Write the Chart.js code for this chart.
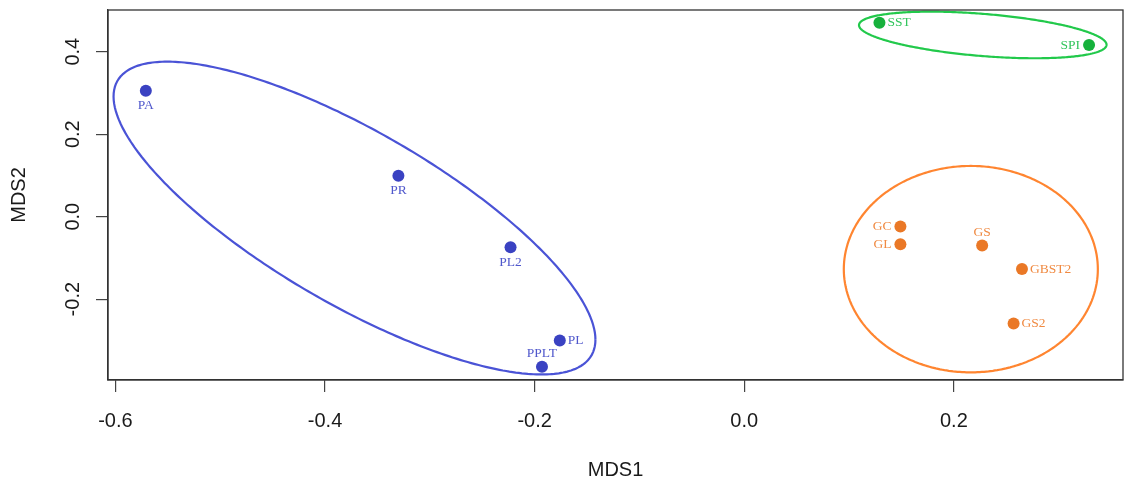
<!DOCTYPE html>
<html>
<head>
<meta charset="utf-8">
<script src="https://cdn.jsdelivr.net/npm/chart.js@4.4.0/dist/chart.umd.min.js"></script>
<style>
  html, body { margin: 0; padding: 0; background: #ffffff; }
  #wrap { width: 1126px; height: 488px; }
</style>
</head>
<body>
<div id="wrap"><canvas id="c" width="1126" height="488"></canvas></div>
<script>
// ---- data ----
const sites  = ['PA', 'PR', 'PL2', 'PL', 'PPLT', 'SST', 'SPI', 'GC', 'GL', 'GS', 'GBST2', 'GS2'];
const mds1   = [-0.571, -0.330, -0.223, -0.176, -0.193, 0.129, 0.329, 0.149, 0.149, 0.227, 0.265, 0.257];
const mds2   = [0.305, 0.099, -0.074, -0.300, -0.364, 0.470, 0.416, -0.024, -0.067, -0.070, -0.127, -0.259];
const groups = ['P', 'P', 'P', 'P', 'P', 'S', 'S', 'G', 'G', 'G', 'G', 'G'];
// label side, R style: 1 below, 2 left, 3 above, 4 right
const labelPos = [1, 1, 1, 4, 3, 4, 2, 2, 2, 3, 4, 4];

const groupNames = ['P', 'S', 'G'];
// group ellipses: centre, half extents along MDS1 / MDS2, correlation
const ellCx = [-0.3719, 0.2276, 0.2162];
const ellCy = [-0.0034, 0.4405, -0.1273];
const ellRx = [0.2299, 0.1181, 0.1212];
const ellRy = [0.3792, 0.0565, 0.2502];
const ellR  = [-0.777, -0.42, 0.0];

const xTicks = [-0.6, -0.4, -0.2, 0.0, 0.2];
const yTicks = [-0.2, 0.0, 0.2, 0.4];
const xRange = [-0.6071, 0.3614];
const yRange = [-0.396, 0.501];

// ---- styles ----
const dotColor  = { P: '#3a42c2', S: '#16b13c', G: '#ea7826' };
const lineColor = { P: '#4a53d6', S: '#22c94b', G: '#ff8530' };
const textColor = { P: '#5058cc', S: '#33c55d', G: '#f08a42' };

const pointSets = groupNames.map(g => ({
  type: 'scatter',
  label: g,
  data: sites.map((s, i) => ({ x: mds1[i], y: mds2[i], g: groups[i] })).filter(d => d.g === g),
  backgroundColor: dotColor[g],
  borderColor: dotColor[g],
  pointRadius: 6,
  pointHoverRadius: 6,
  borderWidth: 0,
  order: 0
}));

const ellipseSets = groupNames.map((g, k) => {
  const pts = [];
  const n = 180;
  for (let j = 0; j <= n; j++) {
    const t = 2 * Math.PI * j / n;
    pts.push({
      x: ellCx[k] + ellRx[k] * Math.cos(t),
      y: ellCy[k] + ellRy[k] * (ellR[k] * Math.cos(t) + Math.sqrt(1 - ellR[k] * ellR[k]) * Math.sin(t))
    });
  }
  return {
    type: 'line',
    label: g + ' ellipse',
    data: pts,
    borderColor: lineColor[g],
    borderWidth: 2.2,
    pointRadius: 0,
    fill: false,
    tension: 0.001,
    order: 1
  };
});

const labelPlugin = {
  id: 'siteLabels',
  afterDatasetsDraw(chart) {
    const ctx = chart.ctx;
    const xs = chart.scales.x, ys = chart.scales.y;
    ctx.save();
    ctx.font = "13.5px 'Liberation Serif', 'Times New Roman', serif";
    sites.forEach((s, i) => {
      const px = xs.getPixelForValue(mds1[i]);
      const py = ys.getPixelForValue(mds2[i]);
      ctx.fillStyle = textColor[groups[i]];
      ctx.textBaseline = 'middle';
      let tx = px, ty = py;
      switch (labelPos[i]) {
        case 1: ctx.textAlign = 'center'; ty = py + 15; break;
        case 3: ctx.textAlign = 'center'; ty = py - 13; break;
        case 2: ctx.textAlign = 'right'; tx = px - 9; break;
        default: ctx.textAlign = 'left'; tx = px + 8; break;
      }
      ctx.fillText(s, tx, ty);
    });
    ctx.restore();
  }
};

const boxPlugin = {
  id: 'frameBox',
  afterDraw(chart) {
    const a = chart.chartArea;
    const ctx = chart.ctx;
    ctx.save();
    ctx.strokeStyle = '#333333';
    ctx.lineWidth = 1.3;
    ctx.strokeRect(a.left, a.top, a.right - a.left, a.bottom - a.top);
    ctx.restore();
  }
};

const tickFont = { family: "'Liberation Sans', Arial, sans-serif", size: 20 };
const noPad = s => { s.paddingTop = 0; s.paddingBottom = 0; s.paddingLeft = 0; s.paddingRight = 0; };

new Chart(document.getElementById('c'), {
  type: 'scatter',
  data: { datasets: [...pointSets, ...ellipseSets] },
  options: {
    responsive: false,
    animation: false,
    events: [],
    layout: { autoPadding: false, padding: { left: 0, top: 10, right: 3, bottom: 0 } },
    plugins: { legend: { display: false }, tooltip: { enabled: false } },
    scales: {
      x: {
        type: 'linear',
        position: 'bottom',
        min: xRange[0],
        max: xRange[1],
        afterBuildTicks: s => { s.ticks = xTicks.map(v => ({ value: v })); },
        afterFit: s => { s.height = 108; noPad(s); },
        ticks: {
          font: tickFont,
          color: '#1a1a1a',
          padding: 17,
          maxRotation: 0,
          minRotation: 0,
          callback: v => Number(v).toFixed(1)
        },
        grid: { display: true, drawOnChartArea: false, drawTicks: true, tickLength: 12, color: '#444444', lineWidth: 1.2 },
        border: { display: true, color: '#333333', width: 1.3 },
        title: { display: true, text: 'MDS1', font: tickFont, color: '#1a1a1a', padding: { top: 0, bottom: 6 } }
      },
      y: {
        type: 'linear',
        position: 'left',
        min: yRange[0],
        max: yRange[1],
        afterBuildTicks: s => { s.ticks = yTicks.map(v => ({ value: v })); },
        afterFit: s => { s.width = 108; noPad(s); },
        ticks: {
          font: tickFont,
          color: '#1a1a1a',
          padding: 5,
          minRotation: 90,
          maxRotation: 90,
          crossAlign: 'center',
          callback: v => Number(v).toFixed(1)
        },
        grid: { display: true, drawOnChartArea: false, drawTicks: true, tickLength: 12, color: '#444444', lineWidth: 1.2 },
        border: { display: true, color: '#333333', width: 1.3 },
        title: { display: true, text: 'MDS2', font: tickFont, color: '#1a1a1a', padding: { top: 7, bottom: 0 } }
      }
    }
  },
  plugins: [labelPlugin, boxPlugin]
});
</script>
</body>
</html>
